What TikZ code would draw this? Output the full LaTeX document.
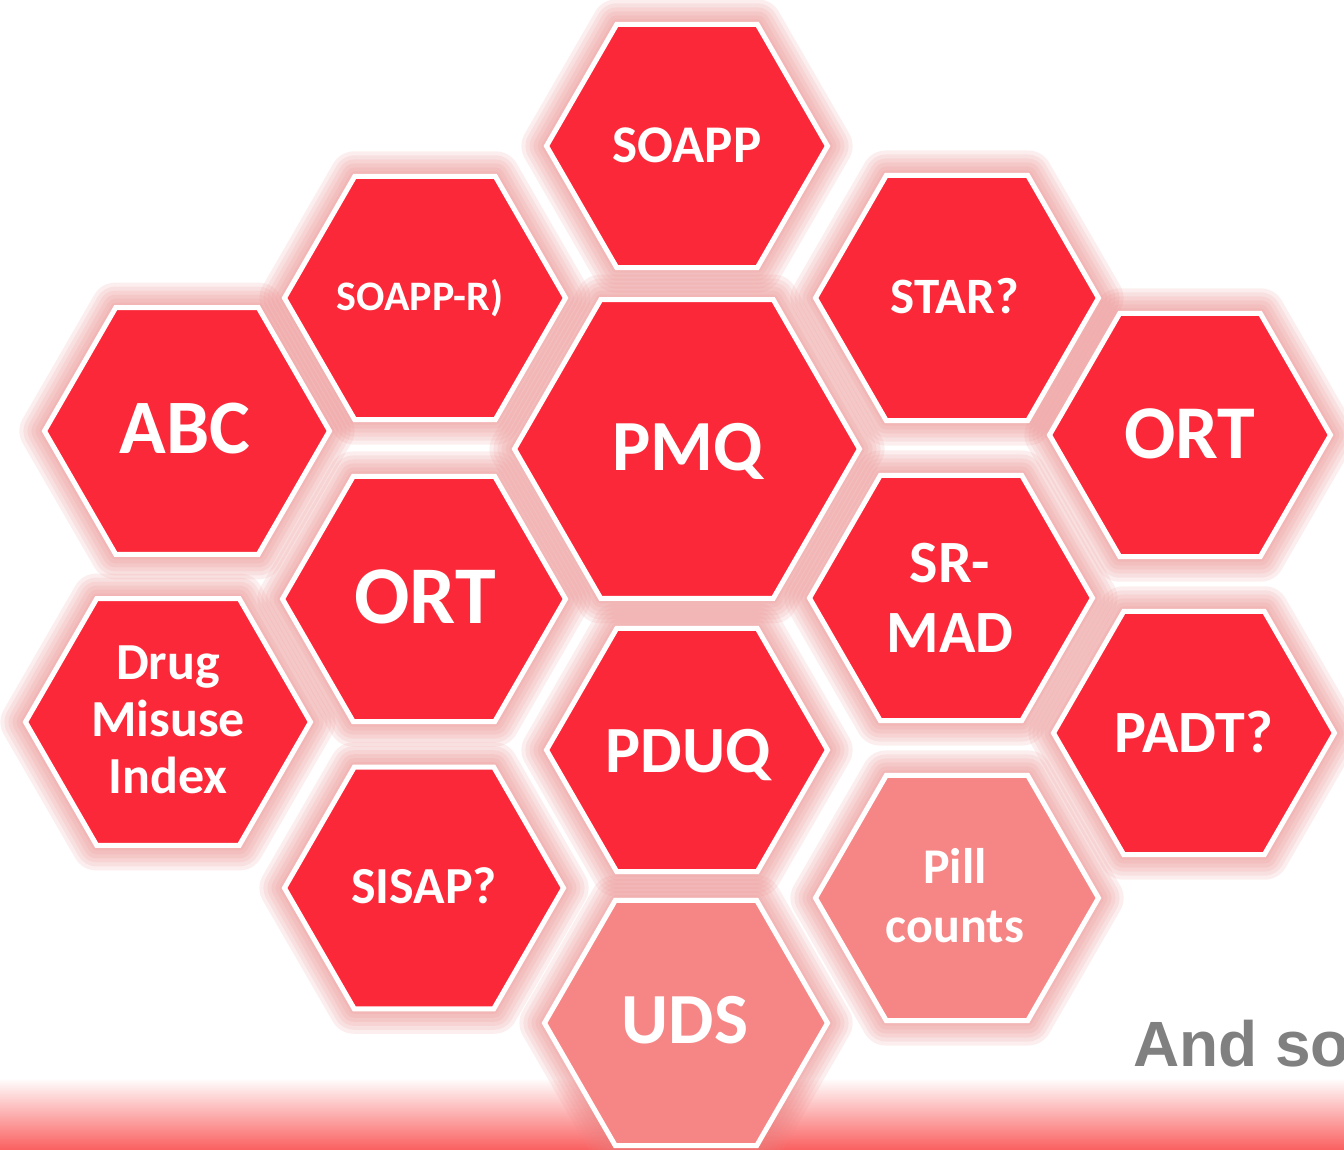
\documentclass[tikz,border=0pt]{standalone}
\usepackage{fontspec}
\setmainfont{Carlito}
\newfontfamily\andfont{Liberation Sans}
\usetikzlibrary{shapes.geometric}
\pgfdeclarelayer{bg}
\pgfsetlayers{bg,main}
\definecolor{hexred}{RGB}{250,40,56}
\definecolor{hexpink}{RGB}{246,134,134}
\definecolor{glowpink}{RGB}{236,130,130}
\definecolor{andgray}{RGB}{128,128,128}
\definecolor{bandred}{RGB}{250,95,95}
\newcommand\hexfs[2]{\fontsize{#1}{#2}\selectfont}
\newcommand\hexglow[1]{%
  \foreach \w in {50,42,34,26,18,10}{%
    \draw[glowpink, line width=\w pt, opacity=0.13, line join=round]
      (#1.corner 1) -- (#1.corner 2) -- (#1.corner 3) -- (#1.corner 4)
      -- (#1.corner 5) -- (#1.corner 6) -- cycle;}}
\tikzset{
  hexa/.style={regular polygon, regular polygon sides=6, minimum size=#1,
    inner sep=0pt, outer sep=0pt, draw=white, line width=5pt, fill=hexred},
  hexa/.default=281,
  softhex/.style={hexa=#1, fill=hexpink},
  softhex/.default=283,
  lbl/.style={text=white, inner sep=0pt, anchor=base, align=center},
}
\begin{document}
\begin{tikzpicture}[x=1pt,y=-1pt]
\useasboundingbox (0,0) rectangle (1344,1150);
\clip (0,0) rectangle (1344,1150);
% hexagons
\node[hexa] (soapp) at (687,146) {};
\node[hexa] (soappr) at (425,298) {};
\node[hexa=283] (star) at (957,298) {};
\node[hexa=285] (abc) at (187,431) {};
\node[hexa=345] (pmq) at (687,449) {};
\node[hexa] (ortr) at (1190,435) {};
\node[hexa=283] (ortl) at (424,599) {};
\node[hexa=283] (srmad) at (951,598) {};
\node[hexa=285] (drug) at (168,722) {};
\node[hexa] (pduq) at (687,750) {};
\node[hexa] (padt) at (1194,733) {};
\node[hexa=279] (sisap) at (424,888) {};
\node[softhex] (pill) at (957,898) {};
\node[softhex] (uds) at (686,1023) {};
% labels
\node[lbl, font=\bfseries\hexfs{53}{60}] (tsoapp) at (687,163) {SOAPP};
\node[lbl, font=\bfseries\hexfs{42}{48}] (tsoappr) at (420,311) {SOAPP-R)};
\node[lbl, font=\bfseries\hexfs{51}{58}] (tstar) at (955,313) {STAR?};
\node[lbl, font=\bfseries\hexfs{77}{84}] (tabc) at (185,453) {ABC};
\node[lbl, font=\bfseries\hexfs{72}{80}] (tpmq) at (688,470) {PMQ};
\node[lbl, font=\bfseries\hexfs{76}{84}] (tortr) at (1190,458) {ORT};
\node[lbl, font=\bfseries\hexfs{82}{90}] (tortl) at (425,623) {ORT};
\node[lbl, font=\bfseries\hexfs{60}{70}] (tsrmad) at (950,652) {SR-\\MAD};
\node[lbl, font=\bfseries\hexfs{52}{57}] (tdrug) at (168,793) {Drug\\Misuse\\Index};
\node[lbl, font=\bfseries\hexfs{66}{74}] (tpduq) at (688,772) {PDUQ};
\node[lbl, font=\bfseries\hexfs{60}{68}] (tpadt) at (1194,752) {PADT?};
\node[lbl, font=\bfseries\hexfs{52}{58}] (tsisap) at (424,903) {SISAP?};
\node[lbl, font=\bfseries\hexfs{50}{59}] (tpill) at (955,942) {Pill\\counts};
\node[lbl, font=\bfseries\hexfs{72}{80}] (tuds) at (685,1043) {UDS};
\node[text=andgray, font=\andfont\bfseries\hexfs{64}{72}, inner sep=0pt, anchor=base west] (andso) at (1133,1066) {And so};
% background: band and glows
\begin{pgfonlayer}{bg}
  \fill[white] (0,0) rectangle (1344,1150);
  \shade[top color=white, bottom color=bandred] (0,1078) rectangle (1344,1150);
  \foreach \h in {soapp,soappr,star,abc,pmq,ortr,ortl,srmad,drug,pduq,padt,sisap,pill,uds}{\hexglow{\h}}
\end{pgfonlayer}
\end{tikzpicture}
\end{document}
